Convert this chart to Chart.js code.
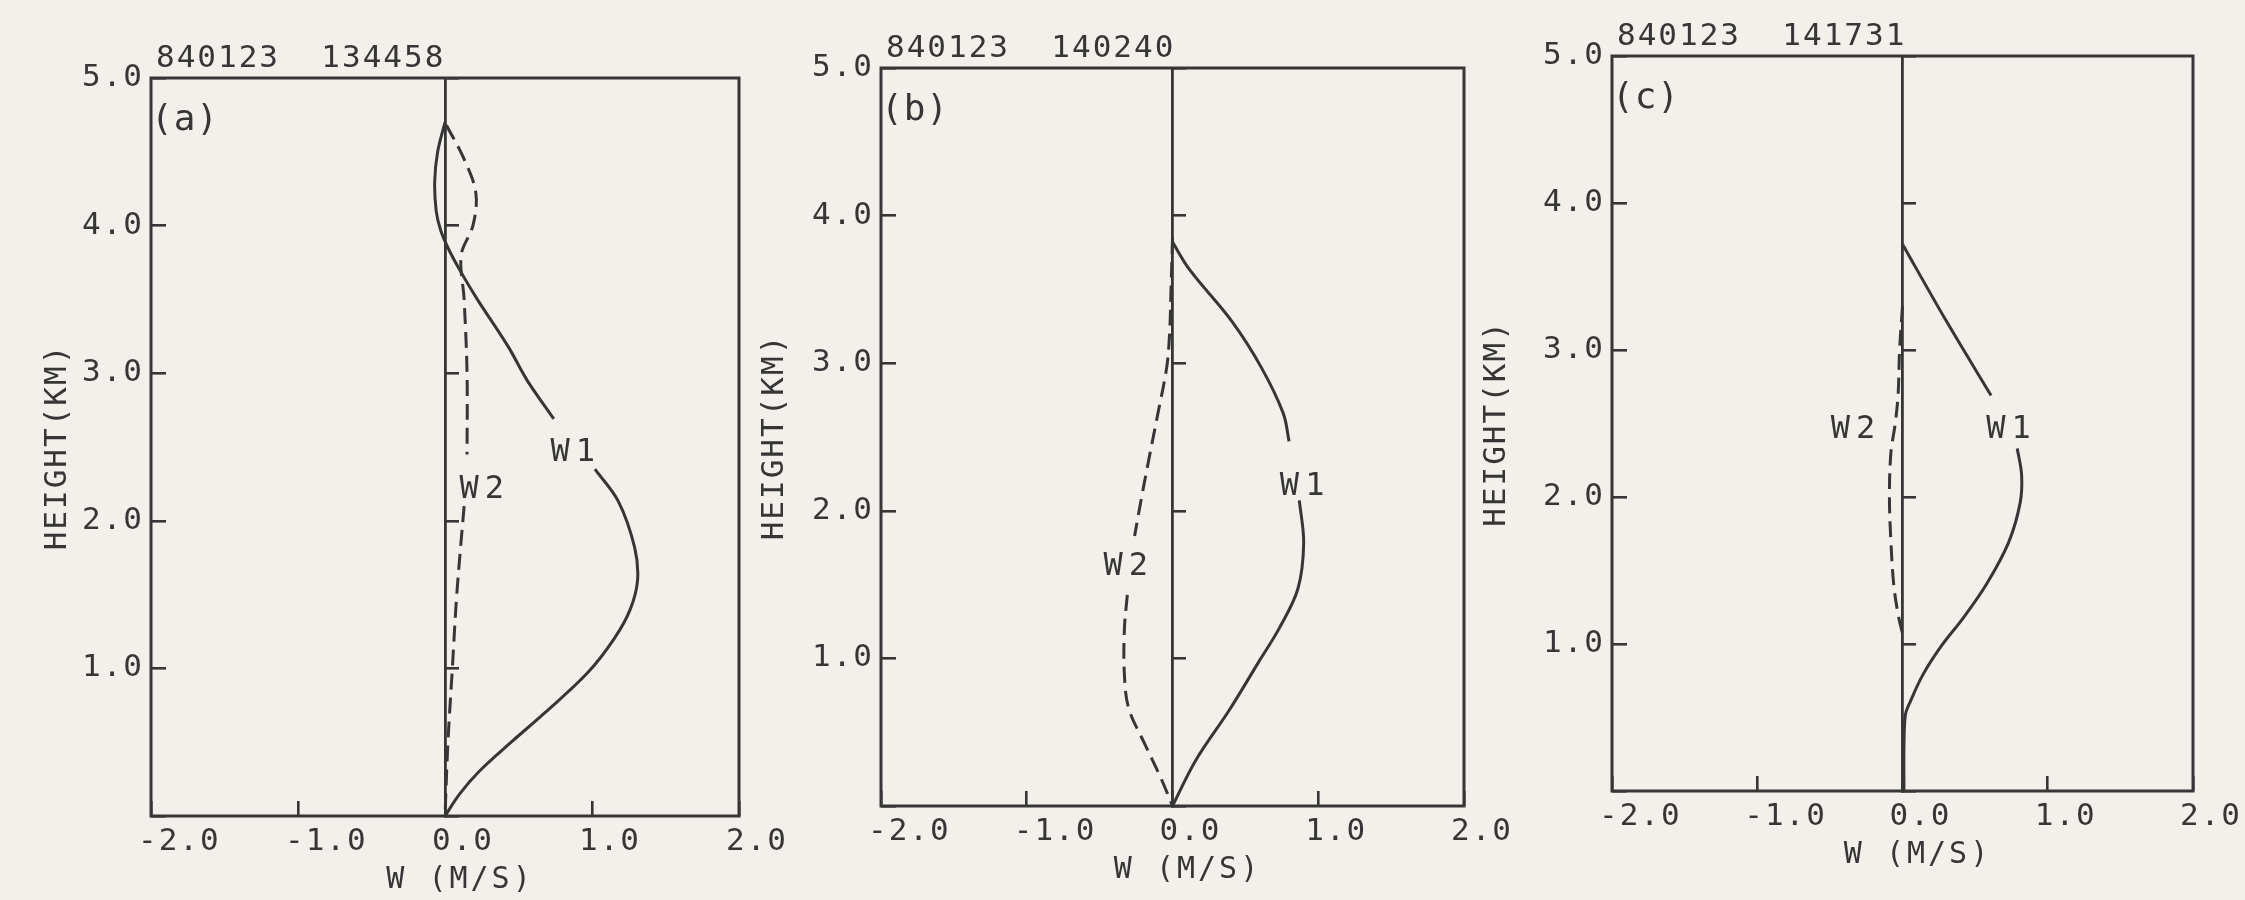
<!DOCTYPE html>
<html>
<head>
<meta charset="utf-8">
<script src="https://cdn.jsdelivr.net/npm/chart.js@4.4.1/dist/chart.umd.min.js"></script>
<style>
html, body { margin: 0; padding: 0; background: #f3f0ec; overflow: hidden; }
#wrap { position: relative; width: 2245px; height: 900px; }
canvas { position: absolute; top: 0; }
</style>
</head>
<body>
<div id="wrap">
<canvas id="pa"></canvas>
<canvas id="pb"></canvas>
<canvas id="pc"></canvas>
</div>
<script>
const panelTags = ['(a)', '(b)', '(c)']
const panelDates = ['840123', '840123', '840123']
const panelTimes = ['134458', '140240', '141731']
const xTickValues = [-2, -1, 0, 1, 2]
const yTickValues = [0, 1, 2, 3, 4, 5]

// height (km) and W (m/s) along each profile; null leaves the gap where the label sits
const w1HeightA = [4.7, 4.5, 4.3, 4.1, 3.97, 3.85, 3.7, 3.5, 3.18, 2.95, 2.69, null, 2.35, 2.13, 1.82, 1.6, 1.4, 1.2, 0.97, 0.7, 0.5, 0.3, 0.15, 0]
const w1SpeedA = [0, -0.05, -0.07, -0.06, -0.03, 0.02, 0.1, 0.22, 0.43, 0.56, 0.74, null, 1.02, 1.18, 1.29, 1.31, 1.26, 1.15, 0.97, 0.68, 0.45, 0.23, 0.1, 0]
const w2HeightA = [4.68, 4.45, 4.22, 4.0, 3.8, 3.5, 3.0, 2.45, null, 2.1, 1.5, 1.0, 0.5, 0]
const w2SpeedA = [0.01, 0.13, 0.21, 0.19, 0.11, 0.13, 0.15, 0.15, null, 0.13, 0.08, 0.05, 0.02, 0]

const w1HeightB = [3.82, 3.63, 3.28, 2.97, 2.66, 2.47, null, 2.07, 1.78, 1.47, 1.2, 0.99, 0.65, 0.31, 0]
const w1SpeedB = [0, 0.12, 0.41, 0.61, 0.76, 0.8, null, 0.87, 0.9, 0.86, 0.73, 0.6, 0.39, 0.16, 0]
const w2HeightB = [3.85, 3.5, 3.2, 2.97, 2.66, 2.36, 2.05, 1.83, null, 1.43, 1.2, 0.89, 0.66, 0.42, 0.19, 0]
const w2SpeedB = [0, -0.01, -0.02, -0.04, -0.1, -0.16, -0.22, -0.26, null, -0.31, -0.33, -0.33, -0.3, -0.19, -0.08, 0]

const w1HeightC = [3.72, 3.2, 2.69, null, 2.33, 2.15, 1.96, 1.69, 1.41, 1.18, 0.99, 0.79, 0.6, 0.52, 0.3, 0]
const w1SpeedC = [0, 0.3, 0.61, null, 0.79, 0.82, 0.81, 0.73, 0.58, 0.42, 0.27, 0.14, 0.05, 0.02, 0.01, 0.01]
const w2HeightC = [3.3, 3.0, 2.7, 2.5, 2.3, 2.0, 1.7, 1.4, 1.2, 1.07]
const w2SpeedC = [0, -0.02, -0.03, -0.05, -0.08, -0.09, -0.08, -0.06, -0.03, 0]

// where the W1 / W2 labels sit, in data units
const w1Label = [[0.89, 2.46], [0.91, 2.16], [0.75, 2.46]]
const w2Label = [[0.27, 2.21], [-0.30, 1.62], [-0.32, 2.46]]

// page layout (px)
const YW = 140, XH = 70
const boxLeft = [151, 881, 1612]
const boxRight = [739, 1464, 2193]
const boxTop = [78, 68, 56]
const boxBottom = [816, 806, 791]
const canvasLeft = [0, 740, 1445]
const yTitleX = [58, 775, 1497]
const ink = '#363636'
const FONT = '"DejaVu Sans Mono", monospace'

Chart.defaults.font.family = FONT
Chart.defaults.font.size = 31
Chart.defaults.color = ink

function pts(hs, ws) {
	return hs.map((h, i) => ({x: ws[i], y: h}))
}

const annotate = {
	id: 'annotate',
	beforeDraw(chart) {
		chart.ctx.letterSpacing = '2px'
	},
	beforeDatasetsDraw(chart) {
		const {ctx, chartArea: a} = chart
		ctx.save()
		ctx.strokeStyle = ink
		ctx.lineWidth = 3
		ctx.strokeRect(a.left, a.top, a.right - a.left, a.bottom - a.top)
		ctx.restore()
	},
	afterDraw(chart, args, opts) {
		const i = opts.panel
		const {ctx, chartArea: a} = chart
		const x = chart.scales.x, y = chart.scales.y
		ctx.save()
		ctx.fillStyle = ink
		ctx.textAlign = 'left'
		ctx.textBaseline = 'alphabetic'
		ctx.letterSpacing = '2px'
		ctx.font = '31px ' + FONT
		ctx.fillText(panelDates[i] + '  ' + panelTimes[i], a.left + 5, a.top - 11)
		ctx.letterSpacing = '1px'
		ctx.font = '36px ' + FONT
		ctx.fillText(panelTags[i], a.left, a.top + 52)

		ctx.textAlign = 'center'
		ctx.textBaseline = 'middle'
		ctx.letterSpacing = '6px'
		ctx.font = '32px ' + FONT
		ctx.fillText('W1', x.getPixelForValue(w1Label[i][0]), y.getPixelForValue(w1Label[i][1]))
		ctx.fillText('W2', x.getPixelForValue(w2Label[i][0]), y.getPixelForValue(w2Label[i][1]))

		ctx.letterSpacing = '3px'
		ctx.font = '30px ' + FONT
		ctx.fillText('W (M/S)', x.getPixelForValue(0) + 15, a.bottom + 64)
		ctx.restore()
	}
}

const series = [
	[pts(w1HeightA, w1SpeedA), pts(w2HeightA, w2SpeedA)],
	[pts(w1HeightB, w1SpeedB), pts(w2HeightB, w2SpeedB)],
	[pts(w1HeightC, w1SpeedC), pts(w2HeightC, w2SpeedC)],
]

const tickGrid = {
	drawOnChartArea: false,
	drawTicks: true,
	tickLength: -15,
	color: ink,
	lineWidth: 2.6,
}

;['pa', 'pb', 'pc'].forEach((id, i) => {
	const cv = document.getElementById(id)
	const w = boxRight[i] + 100 - canvasLeft[i]
	cv.width = w
	cv.height = 900
	cv.style.left = canvasLeft[i] + 'px'
	cv.style.width = w + 'px'
	cv.style.height = '900px'

	new Chart(cv, {
		type: 'scatter',
		data: {
			datasets: [{
				data: series[i][0],
				showLine: true,
				borderColor: ink,
				borderWidth: 3,
				pointRadius: 0,
				tension: 0.35,
				xAxisID: 'x',
				yAxisID: 'y',
			}, {
				data: series[i][1],
				showLine: true,
				borderColor: ink,
				borderWidth: 3,
				borderDash: [16, 8],
				pointRadius: 0,
				tension: 0.35,
				xAxisID: 'x',
				yAxisID: 'y',
			}]
		},
		options: {
			responsive: false,
			animation: false,
			events: [],
			layout: {
				padding: {
					left: boxLeft[i] - canvasLeft[i] - YW,
					right: canvasLeft[i] + w - boxRight[i],
					top: boxTop[i],
					bottom: 900 - boxBottom[i] - XH,
				}
			},
			plugins: {
				legend: {display: false},
				tooltip: {enabled: false},
				annotate: {panel: i},
			},
			scales: {
				x: {
					type: 'linear',
					position: 'bottom',
					min: -2,
					max: 2,
					afterBuildTicks: s => { s.ticks = xTickValues.map(v => ({value: v})) },
					afterFit: s => { s.height = XH },
					ticks: {
						align: 'start',
						labelOffset: -13,
						padding: 22,
						color: ink,
						callback: v => v.toFixed(1),
					},
					grid: tickGrid,
					border: {display: false},
				},
				y: {
					type: 'linear',
					position: 'left',
					min: 0,
					max: 5,
					afterBuildTicks: s => { s.ticks = yTickValues.map(v => ({value: v})) },
					afterFit: s => { s.width = YW },
					ticks: {
						padding: 22,
						color: ink,
						callback: v => v === 0 ? '' : v.toFixed(1),
					},
					grid: tickGrid,
					border: {display: false},
					title: {
						display: true,
						text: 'HEIGHT(KM)',
						color: ink,
						font: {size: 31},
						padding: {top: yTitleX[i] - boxLeft[i] + YW - 18.6, bottom: 0},
					},
				},
				y0: {
					type: 'linear',
					axis: 'y',
					position: {x: 0},
					min: 0,
					max: 5,
					afterBuildTicks: s => { s.ticks = yTickValues.map(v => ({value: v})) },
					ticks: {display: false},
					grid: tickGrid,
					border: {display: true, color: ink, width: 2.8},
				},
			},
		},
		plugins: [annotate],
	})
})
</script>
</body>
</html>
